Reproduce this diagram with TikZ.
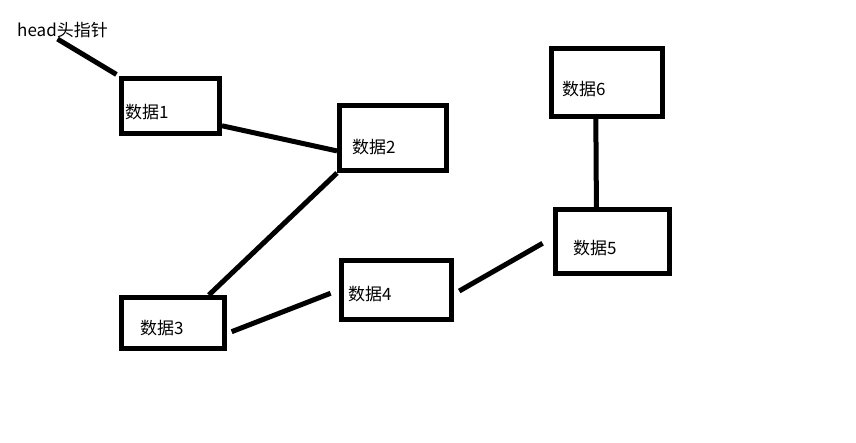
\documentclass[tikz,border=0pt]{standalone}
\usepackage{fontspec}
\setmainfont{Noto Sans CJK SC}
\usetikzlibrary{positioning}

\begin{document}
\begin{tikzpicture}[
  x=1pt, y=-1pt, font=\fontsize{17}{19}\selectfont,
  box/.style={draw=black, line width=5pt, fill=white, inner sep=0pt},
  txt/.style={anchor=west, inner sep=1pt},
  lnk/.style={draw=black, line width=5pt},
]
\useasboundingbox (0,0) rectangle (856,442);

% ---------------------------------------------------------------- kasten
\node[box, minimum width=98pt,  minimum height=55pt] at (170.5,106)  (d1) {};
\node[box, minimum width=107pt, minimum height=65pt] at (393,138)    (d2) {};
\node[box, minimum width=103pt, minimum height=51pt] at (173,323)    (d3) {};
\node[box, minimum width=110pt, minimum height=59pt] at (396.5,290)  (d4) {};
\node[box, minimum width=114pt, minimum height=64pt] at (612.5,241.5) (d5) {};
\node[box, minimum width=111pt, minimum height=68pt] at (607,82.5)   (d6) {};

% ---------------------------------------------------------------- texte
\node[txt] at (16,30)    (head) {head头指针};
\node[txt] at (124,112)  (t1) {数据1};
\node[txt] at (351,147)  (t2) {数据2};
\node[txt] at (139,328.5) (t3) {数据3};
\node[txt] at (347,294.5) (t4) {数据4};
\node[txt] at (572,248)  (t5) {数据5};
\node[txt] at (561,89)   (t6) {数据6};

% ---------------------------------------------------------------- linien
\draw[lnk, shorten >=3pt] ([xshift=-5pt]head.south) -- (d1.north west);
\draw[lnk] (d1.-21) -- (d2.-167);
\draw[lnk] (d2.south west) -- (d3.38);
\draw[lnk, shorten <=5pt, shorten >=9pt] (d3.-11) -- (d4.west);
\draw[lnk, shorten <=6pt, shorten >=12pt] (d4.-4) -- (d5.176);
\draw[lnk] (d5.115) -- (d6.-107);

\end{tikzpicture}
\end{document}
